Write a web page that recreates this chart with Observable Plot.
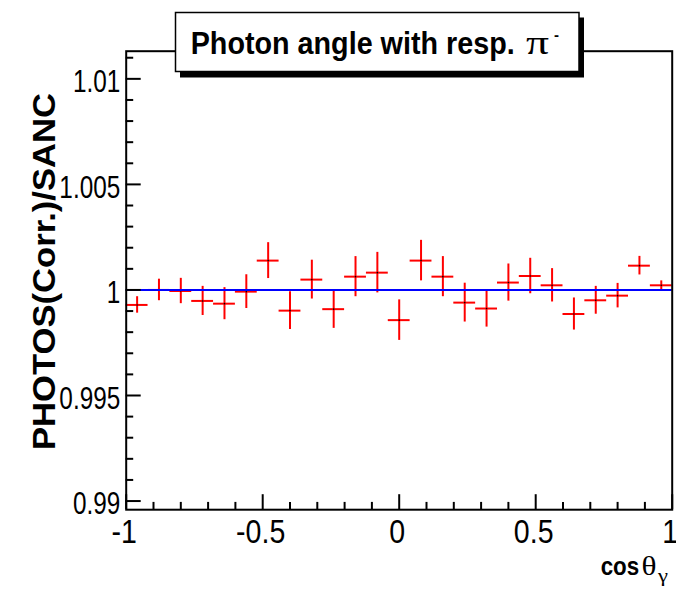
<!DOCTYPE html>
<html><head><meta charset="utf-8">
<script src="https://cdn.jsdelivr.net/npm/d3@7"></script>
<script src="https://cdn.jsdelivr.net/npm/@observablehq/plot@0.6"></script>
<style>html,body{margin:0;padding:0;background:#fff;} #chart{position:relative;width:676px;height:592px;}</style>
</head><body><div id="chart"></div>
<script>
// ---- data ----
const binCenters = [-0.96,-0.88,-0.80,-0.72,-0.64,-0.56,-0.48,-0.40,-0.32,-0.24,-0.16,-0.08,0.00,0.08,0.16,0.24,0.32,0.40,0.48,0.56,0.64,0.72,0.80,0.88,0.96];
const binHalfWidth = 0.04;
const ratio = [0.99929,1.00000,0.99995,0.99948,0.99935,0.99992,1.00139,0.99902,1.00049,0.99909,1.00063,1.00082,0.99857,1.00139,1.00063,0.99940,0.99912,1.00035,1.00066,1.00022,0.99886,0.99951,0.99973,1.00115,1.00022];
const ratioErr = [0.00039,0.00051,0.00060,0.00069,0.00076,0.00080,0.00085,0.00089,0.00092,0.00091,0.00095,0.00096,0.00096,0.00096,0.00095,0.00092,0.00088,0.00088,0.00084,0.00079,0.00076,0.00066,0.00058,0.00044,0.00021];
const fitLevel = 1;
const fitRange = [-1, 1];
const xDomain = [-1, 1];
const yDomain = [0.98959, 1.01131];
const xMajorTicks = [-1, -0.5, 0, 0.5, 1];
const xTickLabels = ["-1", "-0.5", "0", "0.5", "1"];
const xMinorTicks = [-0.9,-0.8,-0.7,-0.6,-0.4,-0.3,-0.2,-0.1,0.1,0.2,0.3,0.4,0.6,0.7,0.8,0.9];
const yMajorTicks = [0.99, 0.995, 1, 1.005, 1.01];
const yTickLabels = ["0.99", "0.995", "1", "1.005", "1.01"];
const yMinorTicks = [0.991,0.992,0.993,0.994,0.996,0.997,0.998,0.999,1.001,1.002,1.003,1.004,1.006,1.007,1.008,1.009,1.011];
const titleText = "Photon angle with resp.";
const yTitle = "PHOTOS(Corr.)/SANC";

// ---- layout ----
const W = 676, H = 592, mL = 125.7, mR = 4.3, mT = 50.7, mB = 82.8;
const plotW = W - mL - mR, plotH = H - mT - mB;

const points = binCenters.map((x, i) => ({x, v: ratio[i], e: ratioErr[i]}));
const yLab = yMajorTicks.map((v, i) => ({v, t: yTickLabels[i]}));
const xLab = xMajorTicks.map((v, i) => ({v, t: xTickLabels[i]}));

const svg = Plot.plot({
  width: W, height: H,
  marginLeft: mL, marginRight: mR, marginTop: mT, marginBottom: mB,
  x: {domain: xDomain, axis: null},
  y: {domain: yDomain, axis: null},
  style: {fontFamily: "'Liberation Sans', Arial, Helvetica, sans-serif", background: "white", color: "black"},
  marks: [
    // error bars
    Plot.ruleY(points, {y: "v", x1: d => d.x - binHalfWidth, x2: d => d.x + binHalfWidth, stroke: "#ff0000", strokeWidth: 2}),
    Plot.ruleX(points, {x: "x", y1: d => d.v - d.e, y2: d => d.v + d.e, stroke: "#ff0000", strokeWidth: 2}),
    Plot.dot(points, {x: "x", y: "v", r: 0.8, fill: "black", stroke: null}),
    // fit line
    Plot.ruleY([fitLevel], {y: d => d, x1: fitRange[0], x2: fitRange[1], stroke: "#0000ff", strokeWidth: 2}),
    // ticks (inward)
    Plot.tickY(yMajorTicks, {y: d => d, insetRight: plotW - 15, stroke: "black", strokeWidth: 2}),
    Plot.tickY(yMinorTicks, {y: d => d, insetRight: plotW - 7.5, stroke: "black", strokeWidth: 2}),
    Plot.tickX(xMajorTicks, {x: d => d, insetTop: plotH - 15, stroke: "black", strokeWidth: 2}),
    Plot.tickX(xMinorTicks, {x: d => d, insetTop: plotH - 7.3, stroke: "black", strokeWidth: 2}),
    // tick labels
    Plot.text(yLab, {y: "v", text: "t", frameAnchor: "left", textAnchor: "end", lineAnchor: "middle", dx: -6, dy: 3, fontSize: 32, fill: "black"}),
    Plot.text(xLab, {x: "v", text: "t", frameAnchor: "bottom", textAnchor: "middle", lineAnchor: "top", dx: -2, dy: 9, fontSize: 34, fill: "black"}),
    Plot.frame({stroke: "black", strokeWidth: 2})
  ]
});

document.getElementById("chart").appendChild(svg);
const s = d3.select(svg);

// condense tick labels like the reference
const textGroups = s.selectAll('g[aria-label="text"]').nodes();
const scales = [0.76, 0.84];
textGroups.forEach((g, gi) => {
  d3.select(g).selectAll("text").each(function () {
    const t = this.getAttribute("transform") || "";
    this.setAttribute("transform", t + ` scale(${scales[gi] || 0.85},1)`);
  });
});

// title box with shadow
const tg = s.append("g").attr("text-anchor", "start");
tg.append("rect").attr("x", 180).attr("y", 17.5).attr("width", 404).attr("height", 60).attr("fill", "black");
tg.append("rect").attr("x", 175.5).attr("y", 12.5).attr("width", 403.5).attr("height", 59).attr("fill", "white").attr("stroke", "black").attr("stroke-width", 1.5);
const tt = tg.append("text").attr("x", 190.7).attr("y", 53.5).attr("text-anchor", "start")
  .attr("font-family", "'Liberation Sans', Arial, sans-serif").attr("font-weight", "bold").attr("font-size", 32);
tt.append("tspan").attr("x", 190.7).attr("y", 53.5)
  .attr("textLength", 324).attr("lengthAdjust", "spacingAndGlyphs").text(titleText);
tt.append("tspan").attr("x", 526).attr("y", 53.5)
  .attr("font-family", "'Liberation Serif', 'Times New Roman', serif").attr("font-weight", "normal").attr("font-size", 34)
  .attr("textLength", 23).attr("lengthAdjust", "spacingAndGlyphs").text("π");
tt.append("tspan").attr("x", 554).attr("y", 40).attr("font-size", 15).text("-");

// y axis title
s.append("text").attr("transform", "translate(55,271.5) rotate(-90)").attr("text-anchor", "middle")
  .attr("font-family", "'Liberation Sans', Arial, sans-serif").attr("font-weight", "bold").attr("font-size", 32)
  .attr("textLength", 357).attr("lengthAdjust", "spacingAndGlyphs").text(yTitle);

// x axis title cosθγ
const xt = s.append("text").attr("x", 600.7).attr("y", 575).attr("text-anchor", "start")
  .attr("font-family", "'Liberation Sans', Arial, sans-serif").attr("font-weight", "bold").attr("font-size", 26);
xt.append("tspan").attr("x", 600.7).attr("y", 575)
  .attr("textLength", 38.5).attr("lengthAdjust", "spacingAndGlyphs").text("cos");
xt.append("tspan").attr("x", 641.5).attr("y", 575)
  .attr("font-family", "'Liberation Serif', 'Times New Roman', serif").attr("font-weight", "normal").attr("font-size", 28)
  .attr("textLength", 15).attr("lengthAdjust", "spacingAndGlyphs").text("θ");
xt.append("tspan").attr("x", 658).attr("y", 582)
  .attr("font-family", "'Liberation Serif', 'Times New Roman', serif").attr("font-weight", "normal").attr("font-size", 19)
  .attr("textLength", 10).attr("lengthAdjust", "spacingAndGlyphs").text("γ");
</script>
</body></html>
